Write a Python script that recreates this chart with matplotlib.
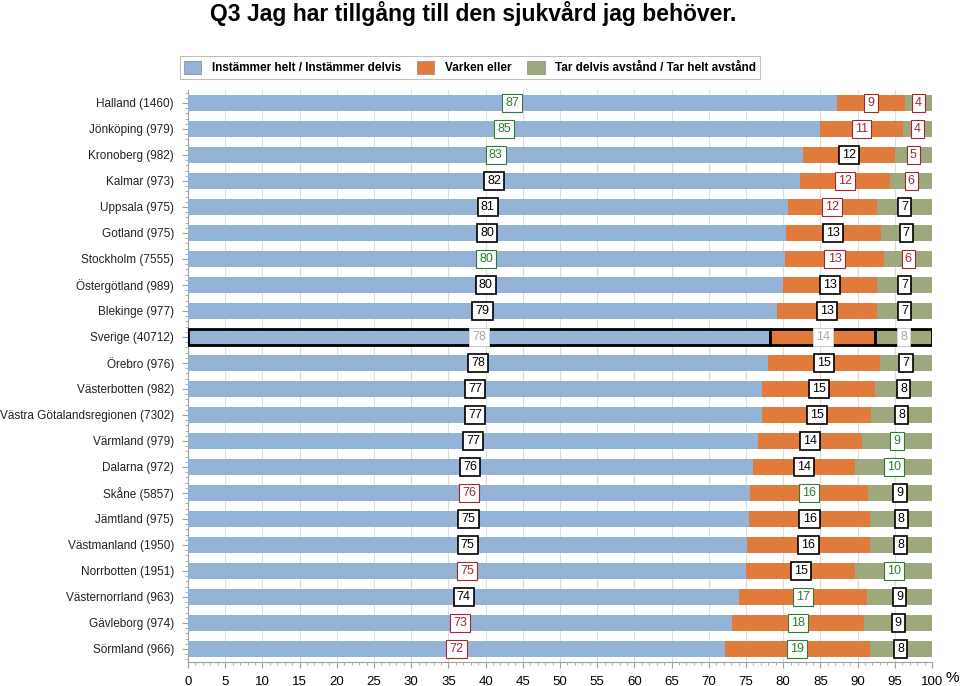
import matplotlib
matplotlib.use('Agg')
import matplotlib.pyplot as plt
from matplotlib.ticker import MultipleLocator
from matplotlib.patches import Patch

plt.rcParams['font.family'] = ['Liberation Sans', 'DejaVu Sans']

regions = ["Halland (1460)", "Jönköping (979)", "Kronoberg (982)", "Kalmar (973)",
           "Uppsala (975)", "Gotland (975)", "Stockholm (7555)", "Östergötland (989)",
           "Blekinge (977)", "Sverige (40712)", "Örebro (976)", "Västerbotten (982)",
           "Västra Götalandsregionen (7302)", "Värmland (979)", "Dalarna (972)",
           "Skåne (5857)", "Jämtland (975)", "Västmanland (1950)", "Norrbotten (1951)",
           "Västernorrland (963)", "Gävleborg (974)", "Sörmland (966)"]
agree = [87.2, 85.0, 82.7, 82.3, 80.6, 80.4, 80.2, 80.0, 79.2, 78.2, 77.9, 77.2,
         77.2, 76.6, 75.9, 75.6, 75.4, 75.2, 75.0, 74.1, 73.1, 72.2]
neutral = [9.2, 11.1, 12.3, 12.1, 12.0, 12.7, 13.4, 12.6, 13.4, 14.2, 15.1, 15.2,
           14.6, 14.0, 13.8, 15.8, 16.3, 16.4, 14.7, 17.2, 17.8, 19.4]
disagree = [3.6, 3.9, 5.0, 5.6, 7.4, 6.9, 6.4, 7.4, 7.4, 7.6, 7.0, 7.6,
            8.2, 9.4, 10.3, 8.6, 8.3, 8.4, 10.3, 8.7, 9.1, 8.4]
# label style codes: g = significantly higher (green), r = lower (red), k = no difference, s = national
agree_code = list("gggkkkgkkskkkkkrkkrkrr")
neutral_code = list("rrkrrkrkkskkkkkgkkkggg")
disagree_code = list("rrrrkkrkkskkkggkkkgkkk")

series_names = ["Instämmer helt / Instämmer delvis", "Varken eller",
                "Tar delvis avstånd / Tar helt avstånd"]
colors = ["#95B3D7", "#E07B3C", "#9EA87D"]

styles = {
    'g': dict(tc="#2E7D32", ec="#2E7D32", lw=0.8),
    'r': dict(tc="#A02830", ec="#A02830", lw=0.8),
    'k': dict(tc="#000000", ec="#000000", lw=1.2),
    's': dict(tc="#A8A8A8", ec="#D8D8D8", lw=0.6),
}

fig = plt.figure(figsize=(9.6, 6.86), dpi=100)
ax = fig.add_axes([188/960, 1-662/686, (932-188)/960, (662-90)/686])

y = list(range(len(regions)))
h = 0.64
left = [0.0]*len(regions)
for vals, col in zip([agree, neutral, disagree], colors):
    for i, v in enumerate(vals):
        is_nat = regions[i].startswith("Sverige")
        ax.barh(i, v, left=left[i], height=h, color=col,
                edgecolor="black" if is_nat else "none",
                linewidth=2.0 if is_nat else 0, zorder=3)
    left = [l + v for l, v in zip(left, vals)]

for i in y:
    starts = [0, agree[i], agree[i] + neutral[i]]
    for s, v, code in zip(starts, [agree[i], neutral[i], disagree[i]],
                          [agree_code[i], neutral_code[i], disagree_code[i]]):
        st = styles[code]
        ax.text(s + v/2, i, f"{v:.0f}", ha='center', va='center', fontsize=9,
                color=st['tc'], zorder=5,
                bbox=dict(boxstyle='square,pad=0.25', fc='white', ec=st['ec'], lw=st['lw']))

ax.set_xlim(0, 100)
ax.set_ylim(len(regions) - 0.5, -0.5)
ax.set_yticks(y)
ax.set_yticklabels(regions, fontsize=8.5, color="#222222")
ax.xaxis.set_major_locator(MultipleLocator(5))
ax.xaxis.set_minor_locator(MultipleLocator(1))
ax.yaxis.set_minor_locator(MultipleLocator(0.2))
ax.tick_params(axis='x', which='major', length=4, color="#A0A0A0", labelsize=9.5, pad=6)
ax.tick_params(axis='x', which='minor', length=2, color="#A0A0A0")
ax.tick_params(axis='y', which='major', length=4, color="#A0A0A0", pad=6)
ax.tick_params(axis='y', which='minor', length=2, color="#A0A0A0")
ax.grid(axis='x', which='major', color="#DDDDDD", lw=0.8, zorder=0)
ax.set_axisbelow(True)
for sp in ['top', 'right']:
    ax.spines[sp].set_visible(False)
for sp in ['left', 'bottom']:
    ax.spines[sp].set_color("#A0A0A0")
ax.axvline(100, color="#DDDDDD", lw=0.8, zorder=0)

fig.text(952/960, 1-678/686, "%", fontsize=11, ha='center', va='center')
fig.text(473/960, 1-14/686, "Q3 Jag har tillgång till den sjukvård jag behöver.",
         fontsize=16.5, fontweight='bold', ha='center', va='center')

handles = [Patch(facecolor=c, edgecolor='#888888', lw=0.5) for c in colors]
leg = fig.legend(handles, series_names, loc='center', ncol=3,
                 bbox_to_anchor=(470/960, 1-67.5/686), fancybox=False,
                 edgecolor="#B0B0B0", fontsize=8.5, handlelength=1.5, handleheight=1.4,
                 columnspacing=1.3, handletextpad=0.9, borderpad=0.35)
for t in leg.get_texts():
    t.set_fontweight('bold')
leg.get_frame().set_linewidth(0.8)

fig.savefig("out.png", dpi=100)
